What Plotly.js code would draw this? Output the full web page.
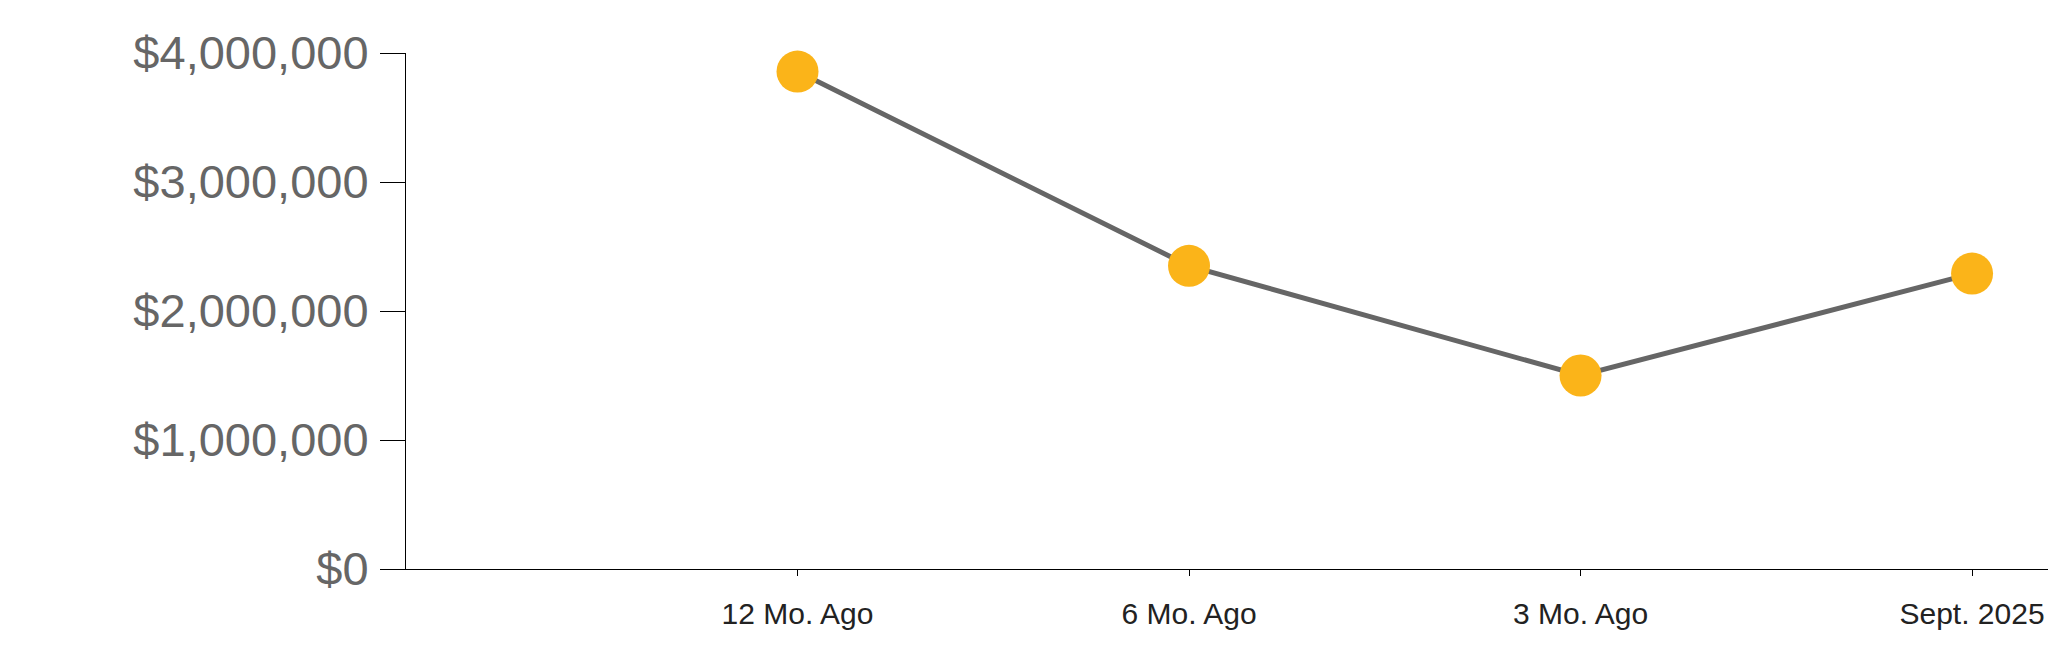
<!DOCTYPE html>
<html>
<head>
<meta charset="utf-8">
<script src="https://cdn.plot.ly/plotly-3.0.1.min.js"></script>
<style>
  html, body { margin: 0; padding: 0; background: #fff; }
  #chart { width: 2048px; height: 663px; }
</style>
</head>
<body>
<div id="chart"></div>
<script>
const categories = ["12 Mo. Ago", "6 Mo. Ago", "3 Mo. Ago", "Sept. 2025"];
const values = [3856000, 2350000, 1500000, 2290000];
const yTicks = [0, 1000000, 2000000, 3000000, 4000000];

const trace = {
  x: categories,
  y: values,
  type: "scatter",
  mode: "lines+markers",
  line: { color: "#666666", width: 5 },
  marker: { color: "#FBB419", size: 42 },
  cliponaxis: false,
  hoverinfo: "none"
};

const layout = {
  width: 2048,
  height: 663,
  margin: { l: 406, r: 0, t: 53, b: 94, pad: 0 },
  paper_bgcolor: "#ffffff",
  plot_bgcolor: "#ffffff",
  showlegend: false,
  separators: ".,",
  xaxis: {
    type: "category",
    range: [-1, 3.194],
    showgrid: false,
    zeroline: false,
    showline: true,
    linecolor: "#000000",
    linewidth: 1,
    ticks: "outside",
    ticklen: 6,
    tickwidth: 1,
    tickcolor: "#000000",
    ticklabelstandoff: 12,
    tickfont: { family: "Liberation Sans, Arial, sans-serif", size: 30, color: "#222222" }
  },
  yaxis: {
    range: [0, 4000000],
    tickmode: "array",
    tickvals: yTicks,
    tickformat: "$,d",
    showgrid: false,
    zeroline: false,
    showline: true,
    linecolor: "#000000",
    linewidth: 1,
    ticks: "outside",
    ticklen: 25,
    tickwidth: 1,
    tickcolor: "#000000",
    ticklabelstandoff: 2,
    tickfont: { family: "Liberation Sans, Arial, sans-serif", size: 47, color: "#666666" }
  }
};

Plotly.newPlot("chart", [trace], layout, { displayModeBar: false, staticPlot: true });
</script>
</body>
</html>
